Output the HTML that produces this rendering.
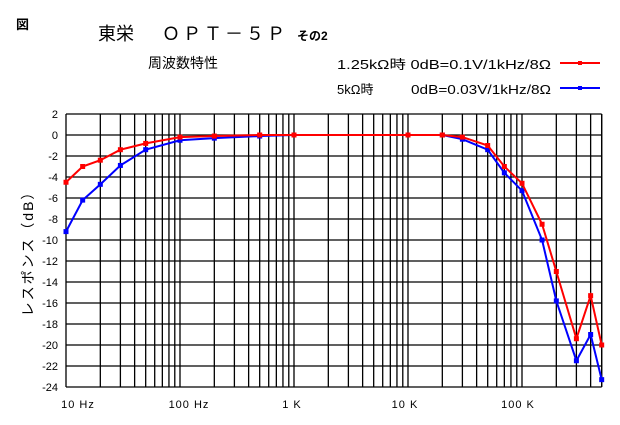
<!DOCTYPE html>
<html><head><meta charset="utf-8">
<style>
body{margin:0;background:#fff;width:620px;height:420px;overflow:hidden}
svg text{font-family:"Liberation Sans","Noto Sans CJK JP",sans-serif;fill:#000}
</style></head>
<body>
<svg id="s" width="620" height="420" xmlns="http://www.w3.org/2000/svg">
<text x="16" y="29" font-size="13" font-weight="bold">図</text>
<text x="98" y="40" font-size="18">東栄</text>
<text x="162" y="40" font-size="18" textLength="123" lengthAdjust="spacing">ＯＰＴ－５Ｐ</text>
<text x="297" y="40" font-size="12" font-weight="bold">その2</text>
<text x="148" y="68" font-size="14">周波数特性</text>
<text x="337" y="69" font-size="13" textLength="214" lengthAdjust="spacingAndGlyphs">1.25kΩ時 0dB=0.1V/1kHz/8Ω</text>
<text x="337" y="94" font-size="13">5kΩ時</text>
<text x="411" y="94" font-size="13" textLength="140" lengthAdjust="spacingAndGlyphs">0dB=0.03V/1kHz/8Ω</text>
<line x1="560" y1="63" x2="600" y2="63" stroke="#f00" stroke-width="2"/>
<rect x="578" y="61" width="4" height="4" fill="#f00"/>
<line x1="560" y1="88" x2="600" y2="88" stroke="#00f" stroke-width="2"/>
<rect x="578" y="86" width="4" height="4" fill="#00f"/>
<text transform="translate(33,250) rotate(-90)" font-size="14" text-anchor="middle" letter-spacing="2">レスポンス（dB）</text>
<g id="g"></g>
</svg>
<script>
var L=66,D=114,T=114,R=21/2;
function X(f){return L+D*Math.log10(f/10);}
function Y(v){return T+(2-v)*R;}
var h='';
for(var d=0;d<5;d++)for(var k=1;k<10;k++){var f=10*Math.pow(10,d)*k;if(f>500000)break;var x=X(f);h+='<line x1="'+x+'" y1="'+T+'" x2="'+x+'" y2="'+Y(-24)+'" stroke="#000" stroke-width="1.3"/>';}
var xr=X(500000);
h+='<line x1="'+xr+'" y1="'+T+'" x2="'+xr+'" y2="'+Y(-24)+'" stroke="#000" stroke-width="1.3"/>';
for(var v=2;v>=-24;v-=2){var y=Y(v);h+='<line x1="'+L+'" y1="'+y+'" x2="'+xr+'" y2="'+y+'" stroke="#000" stroke-width="1.3"/>';h+='<text x="'+(L-8)+'" y="'+(y+4)+'" font-size="11" text-anchor="end">'+(v<0?'-'+(-v):v)+'</text>';}
var lab=[[10,'10 Hz',78],[100,'100 Hz',189],[1000,'1 K',292],[10000,'10 K',405],[100000,'100 K',518]];
lab.forEach(function(a){h+='<text x="'+a[2]+'" y="408" font-size="11" text-anchor="middle" letter-spacing="1">'+a[1]+'</text>';});
var F=[10,14,20,30,50,100,200,500,1000,10000,20000,30000,50000,70000,100000,150000,200000,300000,400000,500000];
var r=[-4.5,-3,-2.4,-1.4,-0.8,-0.2,-0.1,0,0,0,0,-0.2,-1,-3,-4.6,-8.5,-13,-19.4,-15.3,-20];
var b=[-9.2,-6.2,-4.7,-2.9,-1.4,-0.5,-0.3,-0.1,0,0,0,-0.4,-1.4,-3.6,-5.3,-10,-15.8,-21.5,-19,-23.3];
function ser(d,c){var p=F.map(function(f,i){return X(f)+','+Y(d[i]);}).join(' ');var s='<polyline points="'+p+'" fill="none" stroke="'+c+'" stroke-width="2"/>';F.forEach(function(f,i){s+='<rect x="'+(X(f)-2.5)+'" y="'+(Y(d[i])-2.5)+'" width="5" height="5" fill="'+c+'"/>';});return s;}
h+=ser(b,'#00f')+ser(r,'#f00');
document.getElementById('g').innerHTML=h;
</script>
</body></html>
